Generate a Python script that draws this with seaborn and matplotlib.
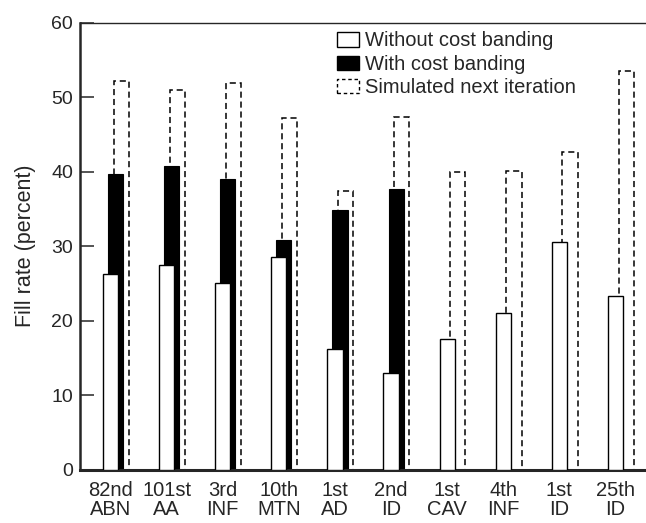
import matplotlib
matplotlib.use("Agg")
import matplotlib.pyplot as plt
import matplotlib.patches as mpatches
import seaborn as sns
import numpy as np
import pandas as pd

# divisoes e taxas de preenchimento (percent)
divisoes = ["82nd\nABN", "101st\nAA", "3rd\nINF", "10th\nMTN", "1st\nAD",
            "2nd\nID", "1st\nCAV", "4th\nINF", "1st\nID", "25th\nID"]
sem_banding = [26.2, 27.5, 25.0, 28.6, 16.2, 13.0, 17.5, 21.0, 30.6, 23.3]
com_banding = [39.7, 40.8, 39.0, 30.8, 34.8, 37.7, np.nan, np.nan, np.nan, np.nan]
simulado = [52.2, 51.0, 51.9, 47.2, 37.4, 47.4, 40.0, 40.1, 42.7, 53.5]
yticks = [0, 10, 20, 30, 40, 50, 60]

df = pd.DataFrame({"divisao": divisoes, "sem": sem_banding,
                   "com": com_banding, "sim": simulado})

sns.set_style("ticks")
plt.rcParams["font.family"] = ["Liberation Sans", "DejaVu Sans"]

fig = plt.figure(figsize=(6.46, 5.23), dpi=100)
ax = fig.add_axes([80 / 646, 53.5 / 523, 566 / 646, 446.8 / 523])

largura = 0.27


def desenhar(coluna, deslocamento, z, **kw):
    n0 = len(ax.patches)
    sns.barplot(data=df, x="divisao", y=coluna, order=divisoes, ax=ax,
                width=largura, errorbar=None, saturation=1, **kw)
    for p in ax.patches[n0:]:
        p.set_x(p.get_x() + deslocamento)
        p.set_zorder(z)
    return ax.patches[n0:]


# tracejado atras, preto no meio, branco na frente
barras_sim = desenhar("sim", 0.19, 1, color="white", edgecolor="black",
                      linewidth=1.1, fill=False)
for p in barras_sim:
    p.set_linestyle((0, (4, 2.5)))
desenhar("com", 0.09, 2, color="black", edgecolor="black", linewidth=0.8)
desenhar("sem", 0.0, 3, color="white", edgecolor="black", linewidth=1.0)

ax.set_xlim(-0.544, 9.544)
ax.set_ylim(0, 60)
ax.set_yticks(yticks)
ax.set_xlabel("")
ax.set_ylabel("Fill rate (percent)", fontsize=15.5)
ax.yaxis.set_label_coords(-0.077, 0.5)

ax.tick_params(axis="y", direction="in", length=10, width=1.1,
               labelsize=14, pad=5)
ax.tick_params(axis="x", length=0, labelsize=14.5, pad=8)
for t in ax.get_xticklabels():
    t.set_linespacing(1.05)

ax.spines["right"].set_visible(False)
ax.spines["left"].set_linewidth(1.8)
ax.spines["bottom"].set_linewidth(2.2)
ax.spines["top"].set_linewidth(1.0)

handles = [
    mpatches.Patch(facecolor="white", edgecolor="black", linewidth=1.0,
                   label="Without cost banding"),
    mpatches.Patch(facecolor="black", edgecolor="black",
                   label="With cost banding"),
    mpatches.Patch(facecolor="none", edgecolor="black", linewidth=1.0,
                   linestyle=(0, (2.5, 2)), label="Simulated next iteration"),
]
ax.legend(handles=handles, loc="upper left",
          bbox_to_anchor=(337 / 646, 1 - 31.5 / 523),
          bbox_transform=fig.transFigure, frameon=False, fontsize=14.5,
          handlelength=1.1, handleheight=0.7, handletextpad=0.3,
          labelspacing=0.22, borderpad=0, borderaxespad=0)

plt.savefig("out.png", dpi=100)
plt.close()
